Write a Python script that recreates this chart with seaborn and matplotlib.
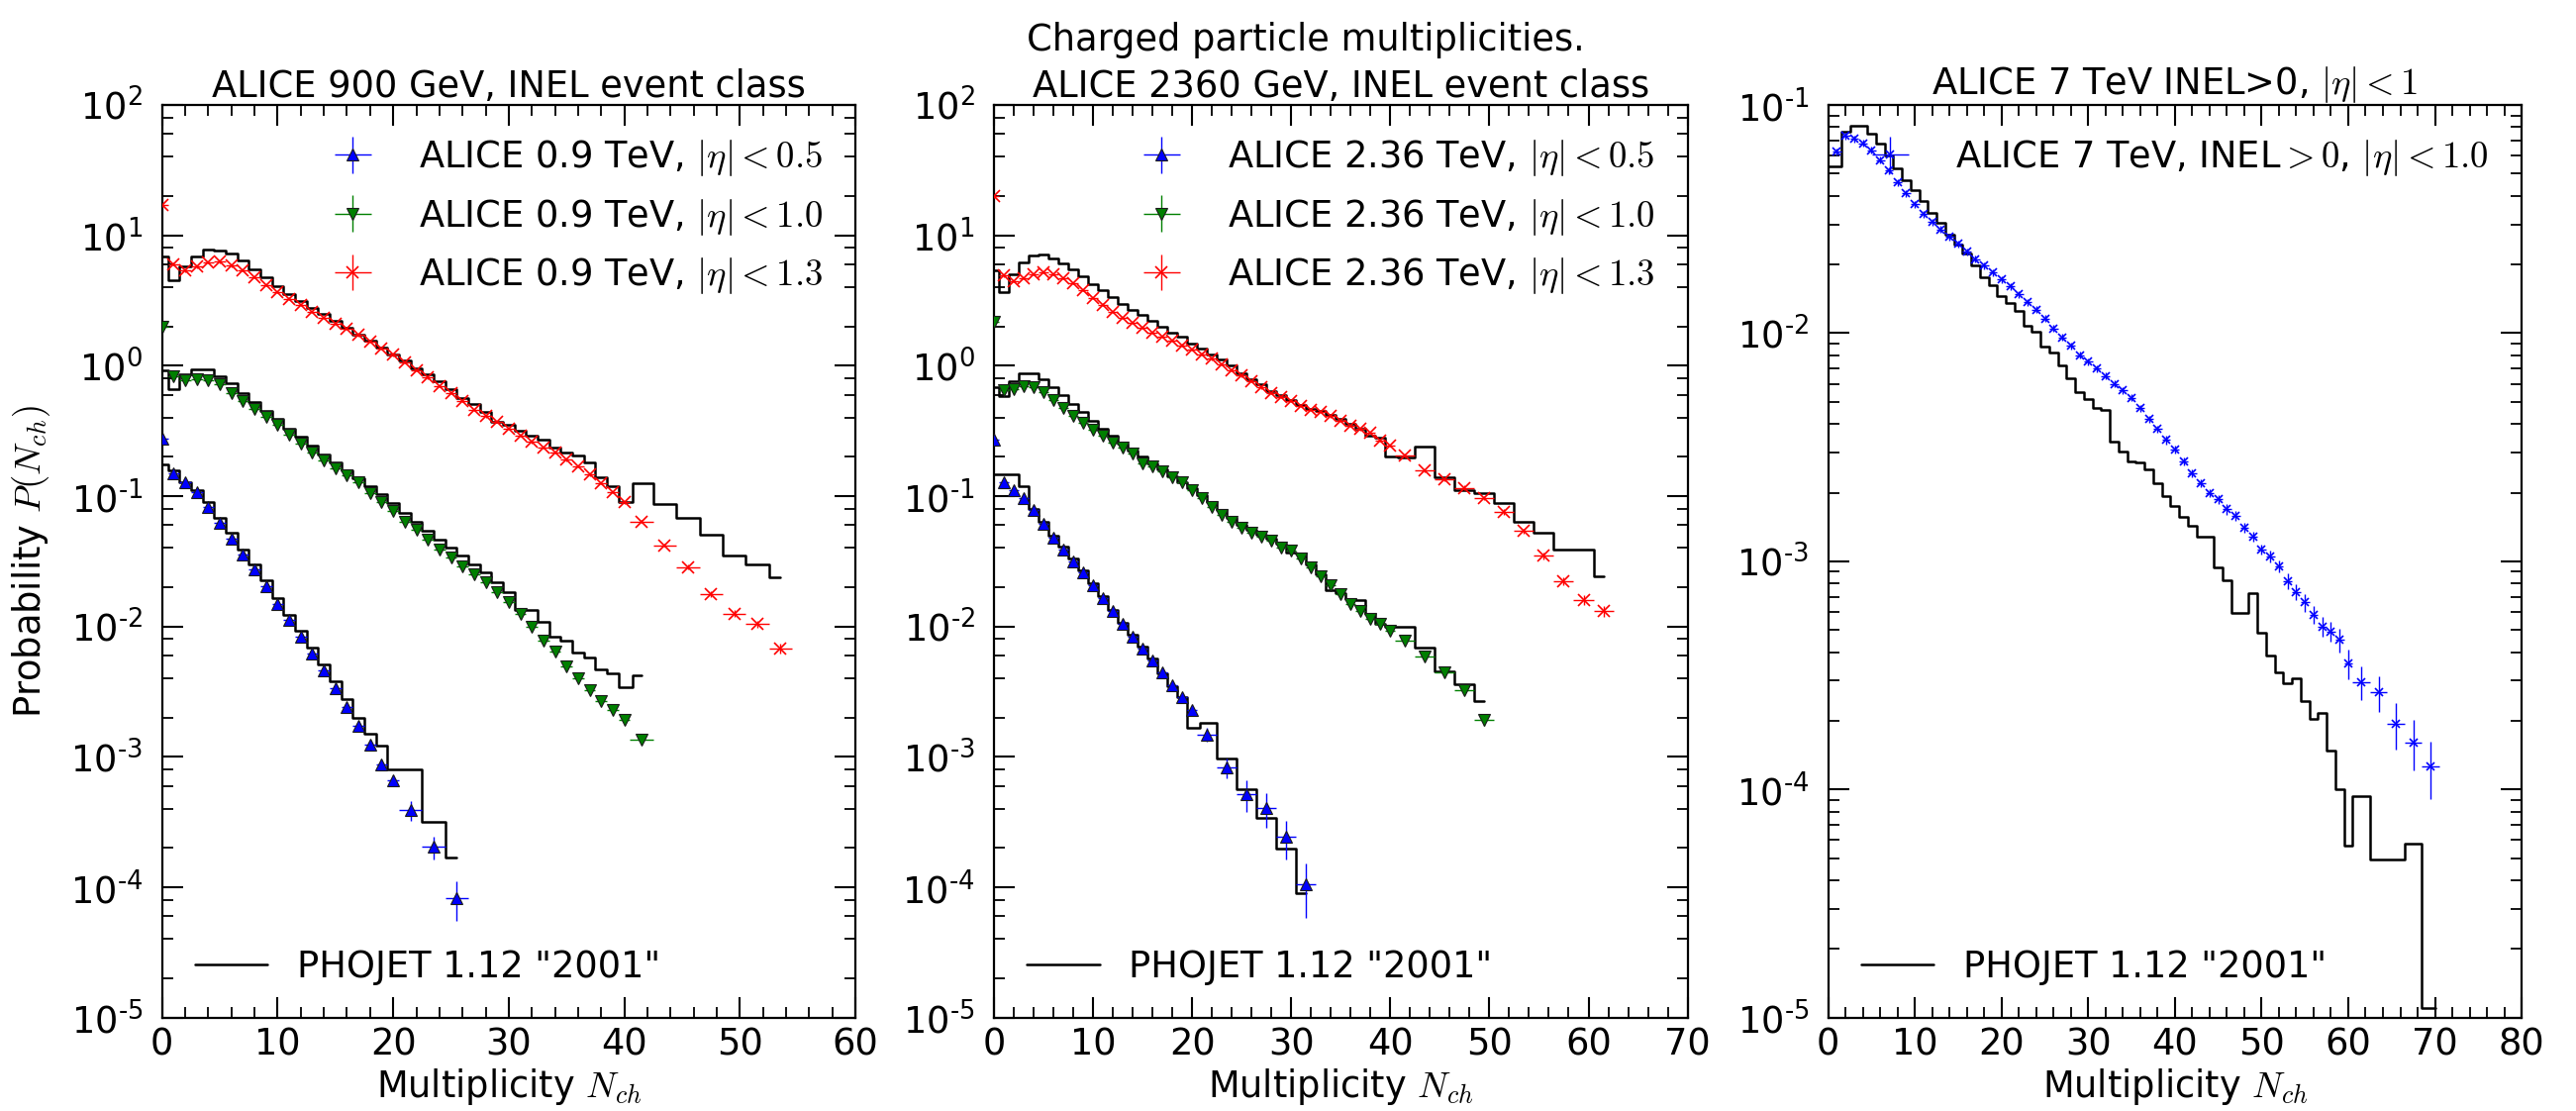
import numpy as np
import pandas as pd
import matplotlib
matplotlib.use("Agg")
import matplotlib.pyplot as plt
import seaborn as sns
from matplotlib.ticker import MultipleLocator, LogLocator, NullFormatter, FuncFormatter, FixedLocator

# ---------------- data ----------------
# Panel 1: ALICE 900 GeV
p1_red_x = list(range(0, 41)) + [41.5, 43.5, 45.5, 47.5, 49.5, 51.5, 53.5]
p1_red_y = [17.0, 6.03, 5.36, 5.74, 6.2, 6.27, 5.85, 5.42, 4.77, 4.17,
            3.67, 3.27, 2.91, 2.59, 2.34, 2.11, 1.93, 1.72, 1.53, 1.36,
            1.21, 1.06, 0.92, 0.81, 0.70, 0.615, 0.54, 0.46, 0.41, 0.37,
            0.33, 0.29, 0.26, 0.237, 0.215, 0.19, 0.17, 0.146, 0.125, 0.107,
            0.0895,
            0.064, 0.042, 0.0286, 0.0177, 0.0126, 0.0104, 0.0068]
p1_red_err = [0.02, 0.02, 0.02, 0.02, 0.02, 0.02, 0.02, 0.02, 0.02, 0.02,
              0.02, 0.02, 0.02, 0.02, 0.02, 0.02, 0.02, 0.02, 0.02, 0.02,
              0.02, 0.02, 0.02, 0.02, 0.02, 0.02, 0.02, 0.02, 0.02, 0.02,
              0.02, 0.02, 0.02, 0.02, 0.02, 0.02, 0.02, 0.02, 0.02, 0.02,
              0.02,
              0.03, 0.03, 0.04, 0.05, 0.06, 0.06, 0.08]
p1_red_mc = [6.84, 4.5, 5.74, 6.84, 7.74, 7.6, 7.26, 6.38, 5.5, 4.75,
             4.07, 3.57, 3.15, 2.78, 2.5, 2.2, 1.97, 1.72, 1.56, 1.37,
             1.23, 1.1, 0.95, 0.86, 0.76, 0.66, 0.57, 0.51, 0.44, 0.37,
             0.35, 0.32, 0.29, 0.27, 0.237, 0.217, 0.205, 0.182, 0.14, 0.12,
             0.09,
             0.125, 0.0865, 0.0685, 0.0505, 0.035, 0.030, 0.0237]

p1_green_x = list(range(0, 41)) + [41.5]
p1_green_y = [2.0, 0.83, 0.774, 0.79, 0.774, 0.72, 0.62, 0.536, 0.465, 0.405,
              0.35, 0.294, 0.251, 0.217, 0.188, 0.162, 0.144, 0.127, 0.105, 0.0895,
              0.077, 0.064, 0.055, 0.046, 0.039, 0.0336, 0.029, 0.0251, 0.0217, 0.0182,
              0.0153, 0.0125, 0.0099, 0.0078, 0.0064, 0.00497, 0.0040, 0.00327, 0.00266, 0.0023,
              0.00193,
              0.00136]
p1_green_err = [0.02, 0.02, 0.02, 0.02, 0.02, 0.02, 0.02, 0.02, 0.02, 0.02,
                0.02, 0.02, 0.02, 0.02, 0.02, 0.02, 0.02, 0.02, 0.02, 0.02,
                0.02, 0.02, 0.02, 0.02, 0.02, 0.02, 0.02, 0.02, 0.02, 0.02,
                0.02, 0.03, 0.03, 0.03, 0.04, 0.04, 0.04, 0.05, 0.05, 0.06,
                0.06,
                0.06]
p1_green_mc = [0.92, 0.665, 0.855, 0.944, 0.944, 0.83, 0.73, 0.62, 0.53, 0.45,
               0.39, 0.33, 0.285, 0.245, 0.21, 0.182, 0.158, 0.138, 0.12, 0.103,
               0.088, 0.075, 0.064, 0.054, 0.046, 0.040, 0.035, 0.030, 0.026, 0.022,
               0.0182, 0.0134, 0.0133, 0.0108, 0.0083, 0.0078, 0.0063, 0.0058, 0.0047, 0.0044,
               0.0034,
               0.0042]

p1_blue_x = list(range(0, 21)) + [21.5, 23.5, 25.5]
p1_blue_y = [0.274, 0.149, 0.128, 0.107, 0.082, 0.062, 0.047, 0.0356, 0.0274, 0.0205,
             0.0150, 0.01125, 0.0083, 0.0062, 0.00458, 0.00336, 0.0024, 0.00172, 0.00125, 0.00088,
             0.00066,
             0.00039, 0.000205, 0.000083]
p1_blue_err = [0.02, 0.02, 0.02, 0.02, 0.02, 0.02, 0.02, 0.02, 0.02, 0.02,
               0.03, 0.03, 0.03, 0.03, 0.04, 0.04, 0.05, 0.05, 0.06, 0.08,
               0.10,
               0.17, 0.20, 0.33]
p1_blue_mc = [0.174, 0.157, 0.128, 0.112, 0.09, 0.068, 0.052, 0.039, 0.030, 0.0225,
              0.0165, 0.0123, 0.0092, 0.0069, 0.0051, 0.0038, 0.0028, 0.0020, 0.0015, 0.00123,
              0.0008,
              0.0008, 0.000317, 0.000169]

# Panel 2: ALICE 2360 GeV
p2_red_x = list(range(0, 41)) + [41.5, 43.5, 45.5, 47.5, 49.5, 51.5, 53.5, 55.5, 57.5, 59.5, 61.5]
p2_red_y = [19.9, 4.9, 4.45, 4.71, 5.06, 5.2, 5.06, 4.71, 4.3, 3.82,
            3.32, 2.95, 2.6, 2.33, 2.13, 1.96, 1.8, 1.67, 1.55, 1.44,
            1.34, 1.23, 1.13, 1.03, 0.93, 0.84, 0.76, 0.68, 0.62, 0.58,
            0.54, 0.49, 0.46, 0.44, 0.41, 0.38, 0.346, 0.326, 0.305, 0.266,
            0.244,
            0.205, 0.157, 0.135, 0.116, 0.097, 0.076, 0.054, 0.035, 0.0223, 0.016, 0.0131]
p2_red_err = [0.02, 0.02, 0.02, 0.02, 0.02, 0.02, 0.02, 0.02, 0.02, 0.02,
              0.02, 0.02, 0.02, 0.02, 0.02, 0.02, 0.02, 0.02, 0.02, 0.02,
              0.02, 0.02, 0.02, 0.02, 0.02, 0.02, 0.02, 0.02, 0.02, 0.02,
              0.02, 0.02, 0.02, 0.02, 0.02, 0.02, 0.02, 0.02, 0.02, 0.02,
              0.02,
              0.03, 0.03, 0.03, 0.04, 0.04, 0.05, 0.05, 0.06, 0.07, 0.08, 0.09]
p2_red_mc = [5.36, 3.67, 5.06, 6.2, 6.96, 7.1, 6.7, 6.1, 5.5, 4.83,
             4.25, 3.78, 3.36, 2.96, 2.66, 2.44, 2.23, 1.99, 1.79, 1.67,
             1.49, 1.36, 1.21, 1.11, 1.0, 0.88, 0.79, 0.72, 0.64, 0.6,
             0.55, 0.50, 0.47, 0.45, 0.42, 0.39, 0.36, 0.33, 0.29, 0.28,
             0.2,
             0.199, 0.241, 0.14, 0.111, 0.105, 0.088, 0.064, 0.052, 0.039, 0.039, 0.0244]

p2_green_x = list(range(0, 41)) + [41.5, 43.5, 45.5, 47.5, 49.5]
p2_green_y = [2.17, 0.65, 0.665, 0.70, 0.69, 0.625, 0.55, 0.475, 0.415, 0.367,
              0.323, 0.29, 0.259, 0.237, 0.211, 0.177, 0.17, 0.155, 0.14, 0.127,
              0.111, 0.097, 0.083, 0.0718, 0.0638, 0.0568, 0.052, 0.049, 0.0455, 0.0405,
              0.0382, 0.0332, 0.0286, 0.0244, 0.0208, 0.0177, 0.0150, 0.0131, 0.0114, 0.0104,
              0.0093,
              0.0078, 0.00585, 0.00442, 0.00327, 0.00194]
p2_green_err = [0.02, 0.02, 0.02, 0.02, 0.02, 0.02, 0.02, 0.02, 0.02, 0.02,
                0.02, 0.02, 0.02, 0.02, 0.02, 0.02, 0.02, 0.02, 0.02, 0.02,
                0.02, 0.02, 0.02, 0.02, 0.02, 0.02, 0.02, 0.02, 0.02, 0.02,
                0.02, 0.03, 0.03, 0.03, 0.03, 0.03, 0.04, 0.04, 0.04, 0.04,
                0.05,
                0.05, 0.06, 0.07, 0.08, 0.10]
p2_green_mc = [0.68, 0.585, 0.76, 0.87, 0.87, 0.79, 0.69, 0.60, 0.51, 0.44,
               0.38, 0.33, 0.29, 0.255, 0.225, 0.2, 0.178, 0.16, 0.143, 0.128,
               0.115, 0.102, 0.09, 0.078, 0.068, 0.06, 0.055, 0.051, 0.047, 0.043,
               0.037, 0.036, 0.030, 0.025, 0.019, 0.018, 0.0163, 0.016, 0.0125, 0.0105,
               0.01,
               0.01, 0.0069, 0.0045, 0.0036, 0.0027]

p2_blue_x = list(range(0, 21)) + [21.5, 23.5, 25.5, 27.5, 29.5, 31.5]
p2_blue_y = [0.27, 0.128, 0.111, 0.096, 0.078, 0.061, 0.0477, 0.039, 0.0317, 0.0259,
             0.0208, 0.0165, 0.0131, 0.0105, 0.0083, 0.0068, 0.00546, 0.00442, 0.00357, 0.00287,
             0.0023,
             0.00149, 0.00083, 0.00052, 0.000406, 0.000244, 0.000105]
p2_blue_err = [0.02, 0.02, 0.02, 0.02, 0.02, 0.02, 0.02, 0.02, 0.02, 0.02,
               0.03, 0.03, 0.03, 0.03, 0.03, 0.04, 0.04, 0.05, 0.05, 0.06,
               0.07,
               0.12, 0.17, 0.27, 0.30, 0.33, 0.45]
p2_blue_mc = [0.148, 0.148, 0.148, 0.12, 0.08, 0.064, 0.05, 0.041, 0.033, 0.027,
              0.0215, 0.017, 0.0135, 0.0107, 0.0087, 0.007, 0.0057, 0.0044, 0.0035, 0.0029,
              0.00167,
              0.00182, 0.00098, 0.000562, 0.00034, 0.000199, 0.0000906]

# Panel 3: ALICE 7 TeV INEL>0 |eta|<1
p3_x = list(range(1, 61)) + [61.5, 63.5, 65.5, 67.5, 69.5]
p3_y = [0.0624, 0.0732, 0.0712, 0.0678, 0.0634, 0.0574, 0.0516, 0.0458, 0.041, 0.0367,
        0.0332, 0.0307, 0.0285, 0.0264, 0.0246, 0.0227, 0.0211, 0.0198, 0.0184, 0.0172,
        0.016, 0.0148, 0.0137, 0.0127, 0.0116, 0.0105, 0.0096, 0.0088, 0.0080, 0.0075,
        0.0070, 0.0065, 0.0060, 0.0056, 0.0052, 0.0047, 0.0042, 0.0038, 0.0034, 0.0031,
        0.00273, 0.00244, 0.00221, 0.0020, 0.00187, 0.00169, 0.00158, 0.00141, 0.00128, 0.00113,
        0.00105, 0.00095, 0.00082, 0.000736, 0.00066, 0.000582, 0.000518, 0.000493, 0.000454, 0.000357,
        0.000296, 0.000266, 0.000194, 0.000161, 0.000126]
p3_err = [0.035, 0.035, 0.035, 0.035, 0.035, 0.035, 0.035, 0.035, 0.035, 0.035,
          0.035, 0.035, 0.035, 0.035, 0.035, 0.035, 0.035, 0.035, 0.035, 0.035,
          0.035, 0.035, 0.035, 0.035, 0.035, 0.035, 0.035, 0.035, 0.035, 0.035,
          0.035, 0.035, 0.035, 0.035, 0.035, 0.035, 0.035, 0.035, 0.04, 0.04,
          0.04, 0.04, 0.04, 0.04, 0.045, 0.05, 0.05, 0.05, 0.05, 0.05,
          0.06, 0.06, 0.08, 0.08, 0.09, 0.09, 0.10, 0.10, 0.12, 0.15,
          0.17, 0.18, 0.23, 0.25, 0.28]
p3_mc_x = list(range(0, 71))
p3_mc = [0.0536, 0.0536, 0.0766, 0.0813, 0.0807, 0.0748, 0.0677, 0.0603, 0.0527, 0.047,
         0.0425, 0.0378, 0.0337, 0.0305, 0.0271, 0.0245, 0.0224, 0.0198, 0.0176, 0.0162,
         0.0146, 0.0135, 0.0125, 0.0108, 0.0101, 0.00875, 0.00824, 0.00722, 0.00633, 0.0055,
         0.00515, 0.00469, 0.00461, 0.00336, 0.00304, 0.00273, 0.0027, 0.00253, 0.00221, 0.00194,
         0.00175, 0.00156, 0.00143, 0.00128, 0.00128, 0.000944, 0.000827, 0.000596, 0.000596, 0.000723,
         0.000485, 0.000387, 0.000327, 0.000292, 0.000306, 0.000245, 0.000204, 0.000216, 0.000148, 0.0001,
         5.7e-5, 9.4e-5, 9.4e-5, 4.95e-5, 4.95e-5, 4.95e-5, 4.95e-5, 5.8e-5, 5.8e-5, 1.1e-5,
         1.1e-5]

# ---------------- style ----------------
FS = 26.5
sns.set_theme(style="ticks")
plt.rcParams.update({
    "font.family": ["DejaVu Sans"],
    "mathtext.fontset": "cm",
    "font.size": FS,
    "axes.titlesize": FS, "axes.labelsize": FS,
    "xtick.labelsize": FS, "ytick.labelsize": FS,
    "legend.fontsize": FS, "figure.titlesize": FS,
    "axes.linewidth": 1.6, "axes.edgecolor": "black",
    "text.color": "black", "axes.labelcolor": "black",
    "xtick.color": "black", "ytick.color": "black",
    "xtick.direction": "in", "ytick.direction": "in",
    "xtick.top": True, "ytick.right": True,
    "xtick.major.size": 15, "ytick.major.size": 15,
    "xtick.minor.size": 8, "ytick.minor.size": 8,
    "xtick.major.width": 1.5, "ytick.major.width": 1.5,
    "xtick.minor.width": 1.3, "ytick.minor.width": 1.3,
    "xtick.major.pad": 6.0, "ytick.major.pad": 14,
    "legend.frameon": False, "legend.numpoints": 1,
    "axes.unicode_minus": False,
    "errorbar.capsize": 0,
})

RED = (1.0, 0.0, 0.0)
GREEN = (0.0, 0.5, 0.0)
BLUE = (0.0, 0.0, 1.0)


def half_width(xs):
    return [0.5 if float(v).is_integer() else 1.0 for v in xs]


def pow10_label(v, pos):
    e = int(round(np.log10(v)))
    s = str(e).replace("-", "\u2011")
    return r"$\mathdefault{10^{%s}}$" % s


def draw_data(ax, xs, ys, rel, color, marker, ms, label, mec="k", mew=0.8):
    yerr = [a * b for a, b in zip(ys, rel)]
    return ax.errorbar(xs, ys, xerr=half_width(xs), yerr=yerr, fmt=marker,
                       color=color, mfc=color, mec=mec, mew=mew, ms=ms,
                       elinewidth=1.0, ecolor=color, capsize=0, label=label, zorder=3)


def draw_mc(ax, xs, ys):
    df = pd.DataFrame({"N": xs, "P": ys})
    sns.lineplot(data=df, x="N", y="P", ax=ax, color="black", lw=1.8,
                 drawstyle="steps-mid", estimator=None, sort=False, legend=False, zorder=2)
    return ax.lines[-1]


def style_axis(ax, xmax, emin, emax, subs):
    ax.set_yscale("log")
    ax.set_xlim(0, xmax)
    ax.set_ylim(10.0 ** emin, 10.0 ** emax)
    ax.xaxis.set_major_locator(MultipleLocator(10))
    ax.xaxis.set_minor_locator(MultipleLocator(2))
    ax.yaxis.set_major_locator(FixedLocator([10.0 ** e for e in range(emin, emax + 1)]))
    ax.yaxis.set_major_formatter(FuncFormatter(pow10_label))
    ax.yaxis.set_minor_locator(LogLocator(base=10, subs=subs, numticks=20))
    ax.yaxis.set_minor_formatter(NullFormatter())
    ax.tick_params(which="both", top=True, right=True, direction="in")
    ax.set_xlabel(r"Multiplicity $N_{ch}$")
    ax.xaxis.set_label_coords(0.5, -0.053)
    ax.set_ylabel("")


fig = plt.figure(figsize=(26.02, 11.22), dpi=100)
W, H, B = 0.2692, 0.8215, 0.0840
ax1 = fig.add_axes([0.0629, B, W, H])
ax2 = fig.add_axes([0.3859, B, W, H])
ax3 = fig.add_axes([0.7097, B, W, H])

for ax in (ax1, ax2, ax3):
    ax.set_yscale("log")

# ---- panel 1
l1 = draw_mc(ax1, p1_red_x, p1_red_mc)
draw_mc(ax1, p1_green_x, p1_green_mc)
draw_mc(ax1, p1_blue_x, p1_blue_mc)
hb = draw_data(ax1, p1_blue_x, p1_blue_y, p1_blue_err, BLUE, "^", 8, r"ALICE 0.9 TeV, $|\eta|<0.5$")
hg = draw_data(ax1, p1_green_x, p1_green_y, p1_green_err, GREEN, "v", 8, r"ALICE 0.9 TeV, $|\eta|<1.0$")
hr = draw_data(ax1, p1_red_x, p1_red_y, p1_red_err, RED, "x", 8, r"ALICE 0.9 TeV, $|\eta|<1.3$", mec=RED, mew=1.2)
style_axis(ax1, 60, -5, 2, [2, 4, 6, 8])
leg = ax1.legend(handles=[hb, hg, hr], loc="upper right")
ax1.add_artist(leg)
ax1.legend(handles=[l1], labels=['PHOJET 1.12 "2001"'], loc="lower left")
ax1.set_title("ALICE 900 GeV, INEL event class", pad=3)
ax1.set_ylabel(r"Probability $P(N_{ch})$", labelpad=13)

# ---- panel 2
l2 = draw_mc(ax2, p2_red_x, p2_red_mc)
draw_mc(ax2, p2_green_x, p2_green_mc)
draw_mc(ax2, p2_blue_x, p2_blue_mc)
hb = draw_data(ax2, p2_blue_x, p2_blue_y, p2_blue_err, BLUE, "^", 8, r"ALICE 2.36 TeV, $|\eta|<0.5$")
hg = draw_data(ax2, p2_green_x, p2_green_y, p2_green_err, GREEN, "v", 8, r"ALICE 2.36 TeV, $|\eta|<1.0$")
hr = draw_data(ax2, p2_red_x, p2_red_y, p2_red_err, RED, "x", 8, r"ALICE 2.36 TeV, $|\eta|<1.3$", mec=RED, mew=1.2)
style_axis(ax2, 70, -5, 2, [2, 4, 6, 8])
leg = ax2.legend(handles=[hb, hg, hr], loc="upper right")
ax2.add_artist(leg)
ax2.legend(handles=[l2], labels=['PHOJET 1.12 "2001"'], loc="lower left")
ax2.set_title("ALICE 2360 GeV, INEL event class", pad=3)

# ---- panel 3
l3 = draw_mc(ax3, p3_mc_x, p3_mc)
h3 = draw_data(ax3, p3_x, p3_y, p3_err, BLUE, "x", 6, r"ALICE 7 TeV, INEL$>0$, $|\eta|<1.0$", mec=BLUE, mew=1.2)
style_axis(ax3, 80, -5, -1, [1, 2, 3, 4, 5, 6, 7, 8, 9])
leg = ax3.legend(handles=[h3], loc="upper right")
ax3.add_artist(leg)
ax3.legend(handles=[l3], labels=['PHOJET 1.12 "2001"'], loc="lower left")
ax3.set_title(r"ALICE 7 TeV INEL>0, $|\eta|<1$", pad=3)

fig.suptitle("Charged particle multiplicities.", x=0.507, y=0.98)

fig.savefig("out.png", dpi=100)
